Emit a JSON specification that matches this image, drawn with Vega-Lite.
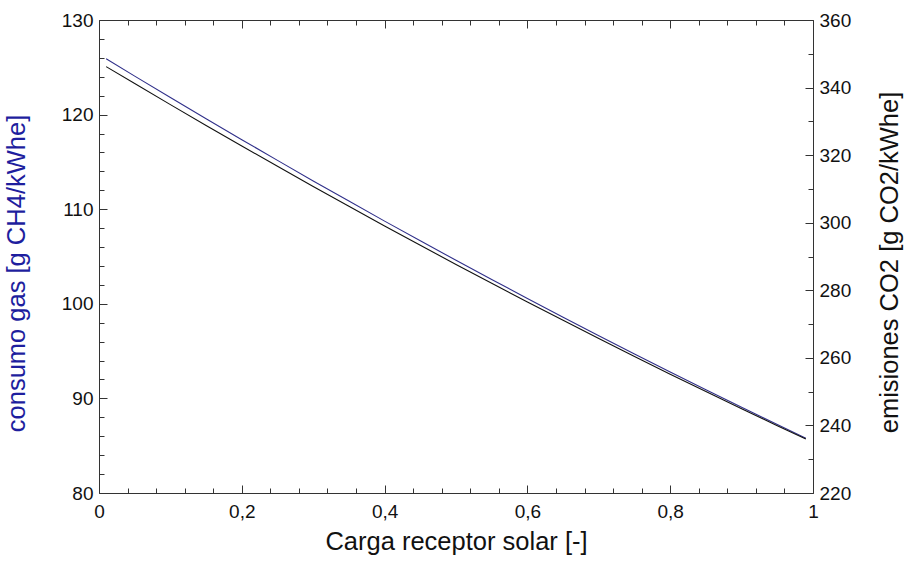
{
  "$schema": "https://vega.github.io/schema/vega-lite/v6.json",
  "width": 714,
  "height": 473,
  "autosize": {"type": "none"},
  "padding": {"left": 99, "top": 20, "right": 93, "bottom": 68},
  "background": "white",
  "config": {
    "view": {"stroke": null},
    "font": "Liberation Sans",
    "axis": {
      "grid": false,
      "labelFont": "Liberation Sans",
      "titleFont": "Liberation Sans",
      "labelFontSize": 19,
      "titleFontSize": 25.5,
      "titleFontWeight": "normal",
      "labelColor": "#111111",
      "titleColor": "#111111",
      "domainColor": "#333333",
      "tickColor": "#333333",
      "domainWidth": 1,
      "tickWidth": 1
    }
  },
  "data": {
    "values": [
      {"carga": 0.01, "gas": 125.9, "co2": 346.2},
      {"carga": 0.05, "gas": 124.07, "co2": 341.19},
      {"carga": 0.10, "gas": 121.8, "co2": 334.95},
      {"carga": 0.15, "gas": 119.56, "co2": 328.79},
      {"carga": 0.20, "gas": 117.35, "co2": 322.71},
      {"carga": 0.25, "gas": 115.16, "co2": 316.69},
      {"carga": 0.30, "gas": 112.99, "co2": 310.72},
      {"carga": 0.35, "gas": 110.86, "co2": 304.87},
      {"carga": 0.40, "gas": 108.74, "co2": 299.04},
      {"carga": 0.45, "gas": 106.66, "co2": 293.32},
      {"carga": 0.50, "gas": 104.6, "co2": 287.65},
      {"carga": 0.55, "gas": 102.57, "co2": 282.07},
      {"carga": 0.60, "gas": 100.56, "co2": 276.54},
      {"carga": 0.65, "gas": 98.58, "co2": 271.1},
      {"carga": 0.70, "gas": 96.62, "co2": 265.71},
      {"carga": 0.75, "gas": 94.7, "co2": 260.43},
      {"carga": 0.80, "gas": 92.79, "co2": 255.17},
      {"carga": 0.85, "gas": 90.92, "co2": 250.03},
      {"carga": 0.90, "gas": 89.06, "co2": 244.92},
      {"carga": 0.95, "gas": 87.24, "co2": 239.91},
      {"carga": 0.99, "gas": 85.8, "co2": 235.95}
    ]
  },
  "layer": [
    {
      "mark": {"type": "line", "color": "#30308a", "strokeWidth": 1.1},
      "encoding": {
        "x": {
          "field": "carga", "type": "quantitative",
          "scale": {"domain": [0, 1], "nice": false, "zero": false},
          "axis": {
            "orient": "bottom",
            "title": "Carga receptor solar [-]",
            "values": [0, 0.2, 0.4, 0.6, 0.8, 1],
            "labelExpr": "replace(format(datum.value, '.1~f'), '.', ',')",
            "labelFlush": false,
            "tickSize": -8,
            "labelPadding": 17,
            "titlePadding": 8
          }
        },
        "y": {
          "field": "gas", "type": "quantitative",
          "scale": {"domain": [80, 130], "nice": false, "zero": false},
          "axis": {
            "orient": "left",
            "title": "consumo gas [g CH4/kWhe]",
            "titleColor": "#1e1e9e",
            "titleY": 253,
            "values": [80, 90, 100, 110, 120, 130],
            "tickSize": -8,
            "labelPadding": 14,
            "titlePadding": 32
          }
        }
      }
    },
    {
      "mark": {"type": "line", "color": "#111111", "strokeWidth": 1.1},
      "encoding": {
        "x": {
          "field": "carga", "type": "quantitative",
          "scale": {"domain": [0, 1], "nice": false, "zero": false},
          "axis": {
            "orient": "top",
            "title": null,
            "values": [0, 0.2, 0.4, 0.6, 0.8, 1],
            "labels": false,
            "tickSize": -8
          }
        },
        "y": {
          "field": "co2", "type": "quantitative",
          "scale": {"domain": [220, 360], "nice": false, "zero": false},
          "axis": {
            "orient": "right",
            "title": "emisiones CO2 [g CO2/kWhe]",
            "titleAngle": 270,
            "titleBaseline": "top",
            "titleY": 242,
            "values": [220, 240, 260, 280, 300, 320, 340, 360],
            "tickSize": -8,
            "labelPadding": 14,
            "titlePadding": 27
          }
        }
      }
    },
    {
      "mark": {"type": "line", "opacity": 0},
      "encoding": {
        "x": {
          "field": "carga", "type": "quantitative",
          "scale": {"domain": [0, 1], "nice": false, "zero": false},
          "axis": {
            "orient": "bottom",
            "title": null,
            "labels": false,
            "domain": false,
            "values": [0.04, 0.08, 0.12, 0.16, 0.24, 0.28, 0.32, 0.36, 0.44, 0.48, 0.52, 0.56, 0.64, 0.68, 0.72, 0.76, 0.84, 0.88, 0.92, 0.96],
            "tickSize": -5
          }
        },
        "y": {
          "field": "gas", "type": "quantitative",
          "scale": {"domain": [80, 130], "nice": false, "zero": false},
          "axis": {
            "orient": "left",
            "title": null,
            "labels": false,
            "domain": false,
            "values": [82, 84, 86, 88, 92, 94, 96, 98, 102, 104, 106, 108, 112, 114, 116, 118, 122, 124, 126, 128],
            "tickSize": -5
          }
        }
      }
    },
    {
      "mark": {"type": "line", "opacity": 0},
      "encoding": {
        "x": {
          "field": "carga", "type": "quantitative",
          "scale": {"domain": [0, 1], "nice": false, "zero": false},
          "axis": {
            "orient": "top",
            "title": null,
            "labels": false,
            "domain": false,
            "values": [0.04, 0.08, 0.12, 0.16, 0.24, 0.28, 0.32, 0.36, 0.44, 0.48, 0.52, 0.56, 0.64, 0.68, 0.72, 0.76, 0.84, 0.88, 0.92, 0.96],
            "tickSize": -5
          }
        },
        "y": {
          "field": "co2", "type": "quantitative",
          "scale": {"domain": [220, 360], "nice": false, "zero": false},
          "axis": {
            "orient": "right",
            "title": null,
            "labels": false,
            "domain": false,
            "values": [230, 250, 270, 290, 310, 330, 350],
            "tickSize": -5
          }
        }
      }
    }
  ],
  "resolve": {
    "scale": {"y": "independent"},
    "axis": {"x": "independent", "y": "independent"}
  }
}
